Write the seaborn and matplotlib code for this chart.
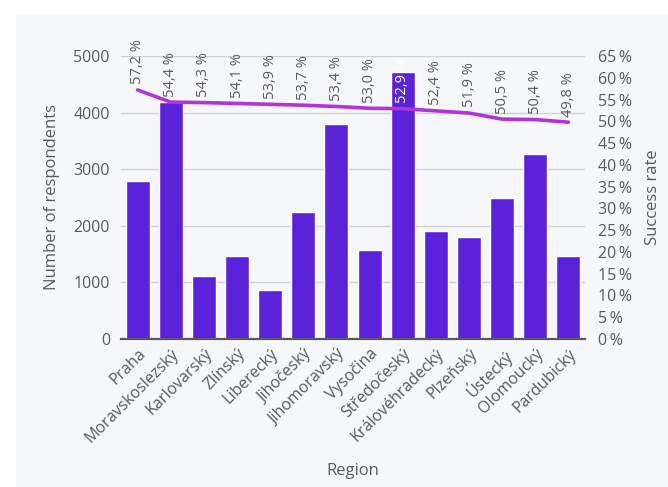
import matplotlib
matplotlib.use("Agg")
import matplotlib.pyplot as plt
import matplotlib.patches as mpatches
import numpy as np
import seaborn as sns

regions = ["Praha", "Moravskoslezský", "Karlovarský", "Zlínský", "Liberecký",
           "Jihočeský", "Jihomoravský", "Vysočina", "Středočeský",
           "Královéhradecký", "Plzeňský", "Ústecký", "Olomoucký", "Pardubický"]
respondents = [2800, 4180, 1110, 1460, 860, 2250, 3790, 1570, 4720, 1900,
               1795, 2500, 3260, 1460]
success_rate = [57.2, 54.4, 54.3, 54.1, 53.9, 53.7, 53.4, 53.0, 52.9, 52.4,
                51.9, 50.5, 50.4, 49.8]
left_ticks = [0, 1000, 2000, 3000, 4000, 5000]
right_ticks = list(range(0, 70, 5))

BAR = "#5b22d9"
LINE = "#b233d6"
PANEL = "#f5f7fa"
TEXT = "#5a5a5a"

sns.set_theme(style="white")
plt.rcParams["font.family"] = ["Open Sans", "DejaVu Sans"]

fig = plt.figure(figsize=(6.68, 4.87), dpi=100, facecolor="white")
fig.patches.append(mpatches.Rectangle((16 / 668, 0), 1 - 16 / 668, 1 - 14 / 487,
                                      transform=fig.transFigure, facecolor=PANEL,
                                      edgecolor="none", zorder=-10))
ax = fig.add_axes([121 / 668, 1 - 339 / 487, (585 - 121) / 668, (339 - 56) / 487])
ax.set_facecolor("none")

sns.barplot(x=regions, y=respondents, ax=ax, color=BAR, saturation=1,
            width=0.72, zorder=2)
ax.set_ylim(0, 5000)
ax.set_xlim(-0.5, len(regions) - 0.5)
ax.set_yticks(left_ticks)
ax.yaxis.grid(True, color="#d2d2d2", linewidth=1, zorder=0)
ax.set_axisbelow(True)
for s in ["left", "right", "top"]:
    ax.spines[s].set_visible(False)
ax.spines["bottom"].set_color("#5a5a5a")
ax.spines["bottom"].set_linewidth(1.6)
ax.tick_params(axis="both", length=0, colors=TEXT, labelsize=11.5)
ax.tick_params(axis="y", pad=8)
ax.tick_params(axis="x", pad=5)
ax.set_xticks(range(len(regions)))
ax.set_xticklabels(regions, rotation=45, ha="right", rotation_mode="anchor")
ax.set_xlabel("Region", color=TEXT, fontsize=12, labelpad=12)
ax.set_ylabel("Number of respondents", color=TEXT, fontsize=12, labelpad=10)

ax2 = ax.twinx()
sns.lineplot(x=np.arange(len(regions)), y=success_rate, ax=ax2, color=LINE,
             linewidth=2.6)
ax2.set_ylim(0, 65)
ax2.set_xlim(-0.5, len(regions) - 0.5)
ax2.set_yticks(right_ticks)
ax2.set_yticklabels([f"{t}\u2009%" for t in right_ticks])
for s in ["left", "right", "top", "bottom"]:
    ax2.spines[s].set_visible(False)
ax2.tick_params(axis="y", length=0, colors=TEXT, labelsize=11.5, pad=9)
ax2.set_ylabel("Success rate", color=TEXT, fontsize=12, labelpad=10)

for i, (n, r) in enumerate(zip(respondents, success_rate)):
    inside = n / 5000 * 65 > r
    ax2.annotate(f"{r:.1f} %".replace(".", ","), xy=(i, r), xytext=(0, 4),
                 textcoords="offset points", rotation=90, ha="center",
                 va="bottom", fontsize=10.5, color="white" if inside else TEXT,
                 annotation_clip=False)

fig.savefig("out.png", dpi=100)
